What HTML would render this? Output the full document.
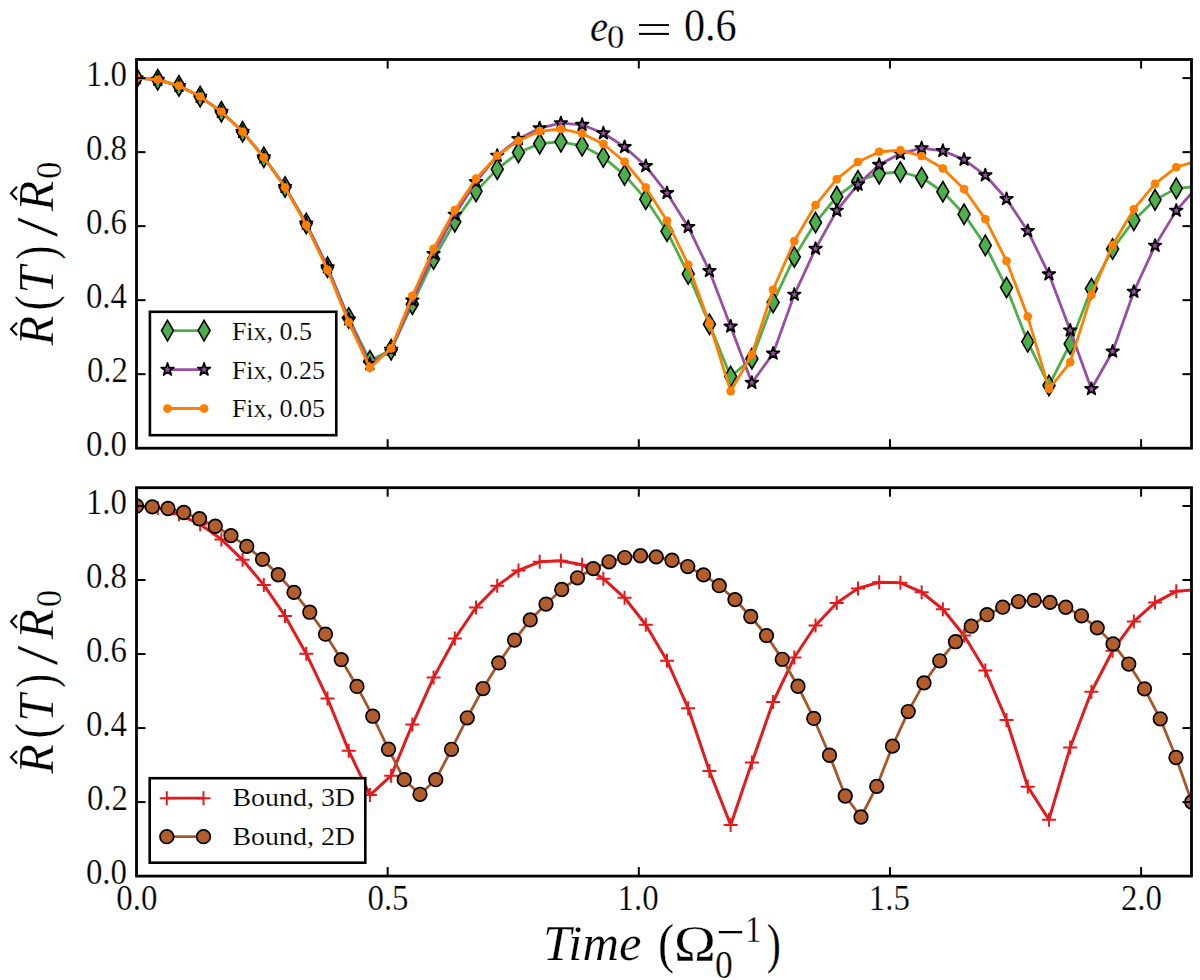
<!DOCTYPE html>
<html><head><meta charset="utf-8"><style>
html,body{margin:0;padding:0;background:#fff;}
svg{display:block;}
text{font-family:"Liberation Serif",serif;fill:#000;stroke:#fff;stroke-width:0.25px;}
.tk{font-size:34px;}
.lg{font-size:25.5px;}
.al{font-size:49px;}
</style></head><body>
<svg width="1200" height="980" viewBox="0 0 1200 980">

<defs>
 <clipPath id="ct"><rect x="136.5" y="59.5" width="1055.0" height="388.7"/></clipPath>
 <clipPath id="cb"><rect x="136.5" y="487.7" width="1055.0" height="388.40000000000003"/></clipPath>
 <path id="dm" d="M0,-10.2 L6,0 L0,10.2 L-6,0 Z" fill="#4daf4a" stroke="#000" stroke-width="1.6" stroke-linejoin="miter"/>
 <path id="st" d="M0.00,-6.60 L1.48,-2.04 L6.28,-2.04 L2.40,0.78 L3.88,5.34 L0.00,2.52 L-3.88,5.34 L-2.40,0.78 L-6.28,-2.04 L-1.48,-2.04 Z" fill="#984ea3" stroke="#000" stroke-width="1.8" stroke-linejoin="round"/>
 <circle id="od" r="4.0" fill="#ff7f00" stroke="#ff7f00" stroke-width="0.8"/>
 <circle id="bc" r="6.8" fill="#b35d2d" stroke="#000" stroke-width="1.7"/>
 <path id="pl" d="M-7,0 H7 M0,-7 V7" stroke="#e41a1c" stroke-width="2" fill="none"/>
</defs>
<rect width="1200" height="980" fill="#fff"/>
<g clip-path="url(#ct)"><polyline points="136.50,78.10 157.72,79.69 178.94,85.87 200.16,96.60 221.38,111.78 242.60,131.76 263.82,157.30 285.04,186.91 306.26,223.55 327.48,267.22 348.70,317.92 369.92,360.86 391.14,349.75 412.36,304.23 433.58,259.08 454.80,221.70 476.02,191.35 497.24,169.14 518.46,152.49 539.68,143.68 560.90,141.76 582.12,145.83 603.34,157.08 624.56,175.07 645.78,199.20 667.00,231.32 688.22,273.88 709.44,324.29 730.66,376.51 751.88,358.64 773.10,302.38 794.32,257.01 815.54,222.51 836.76,196.68 857.98,180.80 879.20,173.70 900.42,171.99 921.64,177.51 942.86,191.72 964.08,214.30 985.30,245.39 1006.52,287.58 1027.74,341.80 1048.96,385.51 1070.18,343.91 1091.40,288.69 1112.62,249.09 1133.84,220.22 1155.06,199.86 1176.28,188.39 1197.50,186.54" fill="none" stroke="#4daf4a" stroke-width="2.8" stroke-linejoin="round"/><use href="#dm" x="136.50" y="78.10"/><use href="#dm" x="157.72" y="79.69"/><use href="#dm" x="178.94" y="85.87"/><use href="#dm" x="200.16" y="96.60"/><use href="#dm" x="221.38" y="111.78"/><use href="#dm" x="242.60" y="131.76"/><use href="#dm" x="263.82" y="157.30"/><use href="#dm" x="285.04" y="186.91"/><use href="#dm" x="306.26" y="223.55"/><use href="#dm" x="327.48" y="267.22"/><use href="#dm" x="348.70" y="317.92"/><use href="#dm" x="369.92" y="360.86"/><use href="#dm" x="391.14" y="349.75"/><use href="#dm" x="412.36" y="304.23"/><use href="#dm" x="433.58" y="259.08"/><use href="#dm" x="454.80" y="221.70"/><use href="#dm" x="476.02" y="191.35"/><use href="#dm" x="497.24" y="169.14"/><use href="#dm" x="518.46" y="152.49"/><use href="#dm" x="539.68" y="143.68"/><use href="#dm" x="560.90" y="141.76"/><use href="#dm" x="582.12" y="145.83"/><use href="#dm" x="603.34" y="157.08"/><use href="#dm" x="624.56" y="175.07"/><use href="#dm" x="645.78" y="199.20"/><use href="#dm" x="667.00" y="231.32"/><use href="#dm" x="688.22" y="273.88"/><use href="#dm" x="709.44" y="324.29"/><use href="#dm" x="730.66" y="376.51"/><use href="#dm" x="751.88" y="358.64"/><use href="#dm" x="773.10" y="302.38"/><use href="#dm" x="794.32" y="257.01"/><use href="#dm" x="815.54" y="222.51"/><use href="#dm" x="836.76" y="196.68"/><use href="#dm" x="857.98" y="180.80"/><use href="#dm" x="879.20" y="173.70"/><use href="#dm" x="900.42" y="171.99"/><use href="#dm" x="921.64" y="177.51"/><use href="#dm" x="942.86" y="191.72"/><use href="#dm" x="964.08" y="214.30"/><use href="#dm" x="985.30" y="245.39"/><use href="#dm" x="1006.52" y="287.58"/><use href="#dm" x="1027.74" y="341.80"/><use href="#dm" x="1048.96" y="385.51"/><use href="#dm" x="1070.18" y="343.91"/><use href="#dm" x="1091.40" y="288.69"/><use href="#dm" x="1112.62" y="249.09"/><use href="#dm" x="1133.84" y="220.22"/><use href="#dm" x="1155.06" y="199.86"/><use href="#dm" x="1176.28" y="188.39"/><use href="#dm" x="1197.50" y="186.54"/><polyline points="136.50,78.10 157.72,79.69 178.94,85.87 200.16,96.60 221.38,111.78 242.60,131.76 263.82,157.30 285.04,186.91 306.26,223.55 327.48,267.22 348.70,319.26 369.92,364.04 391.14,349.61 412.36,300.38 433.58,253.90 454.80,214.63 476.02,181.95 497.24,155.67 518.46,138.98 539.68,128.17 560.90,123.18 582.12,124.81 603.34,133.24 624.56,146.94 645.78,166.04 667.00,193.05 688.22,226.92 709.44,270.96 730.66,326.47 751.88,382.80 773.10,353.49 794.32,294.61 815.54,248.72 836.76,210.60 857.98,184.43 879.20,164.81 900.42,153.60 921.64,148.12 942.86,150.82 964.08,159.60 985.30,175.29 1006.52,198.97 1027.74,230.91 1048.96,274.29 1070.18,330.36 1091.40,388.98 1112.62,351.46 1133.84,291.68 1155.06,245.68 1176.28,210.60 1197.50,186.39" fill="none" stroke="#984ea3" stroke-width="2.8" stroke-linejoin="round"/><use href="#st" x="136.50" y="78.10"/><use href="#st" x="157.72" y="79.69"/><use href="#st" x="178.94" y="85.87"/><use href="#st" x="200.16" y="96.60"/><use href="#st" x="221.38" y="111.78"/><use href="#st" x="242.60" y="131.76"/><use href="#st" x="263.82" y="157.30"/><use href="#st" x="285.04" y="186.91"/><use href="#st" x="306.26" y="223.55"/><use href="#st" x="327.48" y="267.22"/><use href="#st" x="348.70" y="319.26"/><use href="#st" x="369.92" y="364.04"/><use href="#st" x="391.14" y="349.61"/><use href="#st" x="412.36" y="300.38"/><use href="#st" x="433.58" y="253.90"/><use href="#st" x="454.80" y="214.63"/><use href="#st" x="476.02" y="181.95"/><use href="#st" x="497.24" y="155.67"/><use href="#st" x="518.46" y="138.98"/><use href="#st" x="539.68" y="128.17"/><use href="#st" x="560.90" y="123.18"/><use href="#st" x="582.12" y="124.81"/><use href="#st" x="603.34" y="133.24"/><use href="#st" x="624.56" y="146.94"/><use href="#st" x="645.78" y="166.04"/><use href="#st" x="667.00" y="193.05"/><use href="#st" x="688.22" y="226.92"/><use href="#st" x="709.44" y="270.96"/><use href="#st" x="730.66" y="326.47"/><use href="#st" x="751.88" y="382.80"/><use href="#st" x="773.10" y="353.49"/><use href="#st" x="794.32" y="294.61"/><use href="#st" x="815.54" y="248.72"/><use href="#st" x="836.76" y="210.60"/><use href="#st" x="857.98" y="184.43"/><use href="#st" x="879.20" y="164.81"/><use href="#st" x="900.42" y="153.60"/><use href="#st" x="921.64" y="148.12"/><use href="#st" x="942.86" y="150.82"/><use href="#st" x="964.08" y="159.60"/><use href="#st" x="985.30" y="175.29"/><use href="#st" x="1006.52" y="198.97"/><use href="#st" x="1027.74" y="230.91"/><use href="#st" x="1048.96" y="274.29"/><use href="#st" x="1070.18" y="330.36"/><use href="#st" x="1091.40" y="388.98"/><use href="#st" x="1112.62" y="351.46"/><use href="#st" x="1133.84" y="291.68"/><use href="#st" x="1155.06" y="245.68"/><use href="#st" x="1176.28" y="210.60"/><use href="#st" x="1197.50" y="186.39"/><polyline points="136.50,78.10 157.72,79.69 178.94,85.87 200.16,96.60 221.38,111.78 242.60,131.76 263.82,157.49 285.04,187.50 306.26,225.03 327.48,270.00 348.70,322.37 369.92,367.81 391.14,348.38 412.36,295.79 433.58,248.72 454.80,210.00 476.02,178.69 497.24,155.82 518.46,140.68 539.68,131.28 560.90,128.99 582.12,133.50 603.34,143.98 624.56,161.74 645.78,187.50 667.00,220.81 688.22,264.70 709.44,323.48 730.66,391.20 751.88,354.56 773.10,289.80 794.32,241.06 815.54,205.04 836.76,179.14 857.98,162.00 879.20,151.75 900.42,150.27 921.64,156.04 942.86,168.40 964.08,189.13 985.30,219.11 1006.52,260.93 1027.74,316.59 1048.96,388.80 1070.18,362.30 1091.40,294.98 1112.62,245.02 1133.84,209.19 1155.06,183.80 1176.28,167.18 1197.50,160.89" fill="none" stroke="#ff7f00" stroke-width="2.8" stroke-linejoin="round"/><use href="#od" x="136.50" y="78.10"/><use href="#od" x="157.72" y="79.69"/><use href="#od" x="178.94" y="85.87"/><use href="#od" x="200.16" y="96.60"/><use href="#od" x="221.38" y="111.78"/><use href="#od" x="242.60" y="131.76"/><use href="#od" x="263.82" y="157.49"/><use href="#od" x="285.04" y="187.50"/><use href="#od" x="306.26" y="225.03"/><use href="#od" x="327.48" y="270.00"/><use href="#od" x="348.70" y="322.37"/><use href="#od" x="369.92" y="367.81"/><use href="#od" x="391.14" y="348.38"/><use href="#od" x="412.36" y="295.79"/><use href="#od" x="433.58" y="248.72"/><use href="#od" x="454.80" y="210.00"/><use href="#od" x="476.02" y="178.69"/><use href="#od" x="497.24" y="155.82"/><use href="#od" x="518.46" y="140.68"/><use href="#od" x="539.68" y="131.28"/><use href="#od" x="560.90" y="128.99"/><use href="#od" x="582.12" y="133.50"/><use href="#od" x="603.34" y="143.98"/><use href="#od" x="624.56" y="161.74"/><use href="#od" x="645.78" y="187.50"/><use href="#od" x="667.00" y="220.81"/><use href="#od" x="688.22" y="264.70"/><use href="#od" x="709.44" y="323.48"/><use href="#od" x="730.66" y="391.20"/><use href="#od" x="751.88" y="354.56"/><use href="#od" x="773.10" y="289.80"/><use href="#od" x="794.32" y="241.06"/><use href="#od" x="815.54" y="205.04"/><use href="#od" x="836.76" y="179.14"/><use href="#od" x="857.98" y="162.00"/><use href="#od" x="879.20" y="151.75"/><use href="#od" x="900.42" y="150.27"/><use href="#od" x="921.64" y="156.04"/><use href="#od" x="942.86" y="168.40"/><use href="#od" x="964.08" y="189.13"/><use href="#od" x="985.30" y="219.11"/><use href="#od" x="1006.52" y="260.93"/><use href="#od" x="1027.74" y="316.59"/><use href="#od" x="1048.96" y="388.80"/><use href="#od" x="1070.18" y="362.30"/><use href="#od" x="1091.40" y="294.98"/><use href="#od" x="1112.62" y="245.02"/><use href="#od" x="1133.84" y="209.19"/><use href="#od" x="1155.06" y="183.80"/><use href="#od" x="1176.28" y="167.18"/><use href="#od" x="1197.50" y="160.89"/></g>
<g stroke="#000" stroke-width="2"><line x1="387.65" y1="448.2" x2="387.65" y2="439.2" /><line x1="387.65" y1="59.5" x2="387.65" y2="68.5" /><line x1="638.80" y1="448.2" x2="638.80" y2="439.2" /><line x1="638.80" y1="59.5" x2="638.80" y2="68.5" /><line x1="889.95" y1="448.2" x2="889.95" y2="439.2" /><line x1="889.95" y1="59.5" x2="889.95" y2="68.5" /><line x1="1141.10" y1="448.2" x2="1141.10" y2="439.2" /><line x1="1141.10" y1="59.5" x2="1141.10" y2="68.5" /><line x1="136.5" y1="374.18" x2="145.5" y2="374.18" /><line x1="1191.5" y1="374.18" x2="1182.5" y2="374.18" /><line x1="136.5" y1="300.16" x2="145.5" y2="300.16" /><line x1="1191.5" y1="300.16" x2="1182.5" y2="300.16" /><line x1="136.5" y1="226.14" x2="145.5" y2="226.14" /><line x1="1191.5" y1="226.14" x2="1182.5" y2="226.14" /><line x1="136.5" y1="152.12" x2="145.5" y2="152.12" /><line x1="1191.5" y1="152.12" x2="1182.5" y2="152.12" /><line x1="136.5" y1="78.10" x2="145.5" y2="78.10" /><line x1="1191.5" y1="78.10" x2="1182.5" y2="78.10" /></g><rect x="136.5" y="59.5" width="1055.0" height="388.7" fill="none" stroke="#000" stroke-width="2.8"/>
<g clip-path="url(#cb)"><polyline points="136.50,506.00 157.72,508.04 178.94,514.29 200.16,524.32 221.38,539.38 242.60,559.81 263.82,584.91 285.04,615.92 306.26,653.67 327.48,698.45 348.70,750.64 369.92,795.05 391.14,775.69 412.36,724.54 433.58,677.43 454.80,638.61 476.02,607.52 497.24,585.68 518.46,570.40 539.68,561.81 560.90,560.70 582.12,564.73 603.34,578.69 624.56,597.78 645.78,624.80 667.00,660.70 688.22,708.30 709.44,770.99 730.66,825.03 751.88,762.41 773.10,702.00 794.32,657.52 815.54,625.54 836.76,602.97 857.98,588.38 879.20,582.31 900.42,582.76 921.64,592.23 942.86,609.26 964.08,635.53 985.30,670.51 1006.52,719.99 1027.74,786.68 1048.96,819.70 1070.18,747.49 1091.40,691.79 1112.62,650.71 1133.84,621.47 1155.06,602.60 1176.28,591.31 1197.50,589.64" fill="none" stroke="#e41a1c" stroke-width="3.0" stroke-linejoin="round"/><use href="#pl" x="136.50" y="506.00"/><use href="#pl" x="157.72" y="508.04"/><use href="#pl" x="178.94" y="514.29"/><use href="#pl" x="200.16" y="524.32"/><use href="#pl" x="221.38" y="539.38"/><use href="#pl" x="242.60" y="559.81"/><use href="#pl" x="263.82" y="584.91"/><use href="#pl" x="285.04" y="615.92"/><use href="#pl" x="306.26" y="653.67"/><use href="#pl" x="327.48" y="698.45"/><use href="#pl" x="348.70" y="750.64"/><use href="#pl" x="369.92" y="795.05"/><use href="#pl" x="391.14" y="775.69"/><use href="#pl" x="412.36" y="724.54"/><use href="#pl" x="433.58" y="677.43"/><use href="#pl" x="454.80" y="638.61"/><use href="#pl" x="476.02" y="607.52"/><use href="#pl" x="497.24" y="585.68"/><use href="#pl" x="518.46" y="570.40"/><use href="#pl" x="539.68" y="561.81"/><use href="#pl" x="560.90" y="560.70"/><use href="#pl" x="582.12" y="564.73"/><use href="#pl" x="603.34" y="578.69"/><use href="#pl" x="624.56" y="597.78"/><use href="#pl" x="645.78" y="624.80"/><use href="#pl" x="667.00" y="660.70"/><use href="#pl" x="688.22" y="708.30"/><use href="#pl" x="709.44" y="770.99"/><use href="#pl" x="730.66" y="825.03"/><use href="#pl" x="751.88" y="762.41"/><use href="#pl" x="773.10" y="702.00"/><use href="#pl" x="794.32" y="657.52"/><use href="#pl" x="815.54" y="625.54"/><use href="#pl" x="836.76" y="602.97"/><use href="#pl" x="857.98" y="588.38"/><use href="#pl" x="879.20" y="582.31"/><use href="#pl" x="900.42" y="582.76"/><use href="#pl" x="921.64" y="592.23"/><use href="#pl" x="942.86" y="609.26"/><use href="#pl" x="964.08" y="635.53"/><use href="#pl" x="985.30" y="670.51"/><use href="#pl" x="1006.52" y="719.99"/><use href="#pl" x="1027.74" y="786.68"/><use href="#pl" x="1048.96" y="819.70"/><use href="#pl" x="1070.18" y="747.49"/><use href="#pl" x="1091.40" y="691.79"/><use href="#pl" x="1112.62" y="650.71"/><use href="#pl" x="1133.84" y="621.47"/><use href="#pl" x="1155.06" y="602.60"/><use href="#pl" x="1176.28" y="591.31"/><use href="#pl" x="1197.50" y="589.64"/><polyline points="136.50,506.00 152.25,506.89 168.00,508.52 183.75,512.51 199.50,518.77 215.25,526.24 231.00,535.61 246.75,546.41 262.50,559.37 278.25,574.76 294.00,592.38 309.75,612.22 325.50,634.17 341.25,659.59 357.00,686.42 372.75,716.22 388.50,749.23 404.25,779.69 420.00,794.31 435.75,779.69 451.50,749.30 467.25,717.81 483.00,688.53 498.75,662.92 514.50,640.09 530.25,619.92 546.00,604.08 561.75,589.49 577.50,577.80 593.25,568.58 609.00,561.81 624.75,557.55 640.50,555.74 656.25,556.89 672.00,560.26 687.75,566.55 703.50,574.91 719.25,585.68 735.00,599.64 750.75,616.51 766.50,635.61 782.25,659.30 798.00,686.24 813.75,718.44 829.50,755.23 845.25,796.01 861.00,817.00 876.75,786.39 892.50,746.16 908.25,711.55 924.00,682.91 939.75,660.81 955.50,641.72 971.25,626.21 987.00,614.70 1002.75,607.19 1018.50,601.56 1034.25,600.38 1050.00,602.41 1065.75,607.26 1081.50,615.81 1097.25,627.87 1113.00,643.86 1128.75,664.03 1144.50,688.83 1160.25,718.81 1176.00,757.48 1191.75,802.01 1207.50,850.19" fill="none" stroke="#a65628" stroke-width="2.8" stroke-linejoin="round"/><use href="#bc" x="136.50" y="506.00"/><use href="#bc" x="152.25" y="506.89"/><use href="#bc" x="168.00" y="508.52"/><use href="#bc" x="183.75" y="512.51"/><use href="#bc" x="199.50" y="518.77"/><use href="#bc" x="215.25" y="526.24"/><use href="#bc" x="231.00" y="535.61"/><use href="#bc" x="246.75" y="546.41"/><use href="#bc" x="262.50" y="559.37"/><use href="#bc" x="278.25" y="574.76"/><use href="#bc" x="294.00" y="592.38"/><use href="#bc" x="309.75" y="612.22"/><use href="#bc" x="325.50" y="634.17"/><use href="#bc" x="341.25" y="659.59"/><use href="#bc" x="357.00" y="686.42"/><use href="#bc" x="372.75" y="716.22"/><use href="#bc" x="388.50" y="749.23"/><use href="#bc" x="404.25" y="779.69"/><use href="#bc" x="420.00" y="794.31"/><use href="#bc" x="435.75" y="779.69"/><use href="#bc" x="451.50" y="749.30"/><use href="#bc" x="467.25" y="717.81"/><use href="#bc" x="483.00" y="688.53"/><use href="#bc" x="498.75" y="662.92"/><use href="#bc" x="514.50" y="640.09"/><use href="#bc" x="530.25" y="619.92"/><use href="#bc" x="546.00" y="604.08"/><use href="#bc" x="561.75" y="589.49"/><use href="#bc" x="577.50" y="577.80"/><use href="#bc" x="593.25" y="568.58"/><use href="#bc" x="609.00" y="561.81"/><use href="#bc" x="624.75" y="557.55"/><use href="#bc" x="640.50" y="555.74"/><use href="#bc" x="656.25" y="556.89"/><use href="#bc" x="672.00" y="560.26"/><use href="#bc" x="687.75" y="566.55"/><use href="#bc" x="703.50" y="574.91"/><use href="#bc" x="719.25" y="585.68"/><use href="#bc" x="735.00" y="599.64"/><use href="#bc" x="750.75" y="616.51"/><use href="#bc" x="766.50" y="635.61"/><use href="#bc" x="782.25" y="659.30"/><use href="#bc" x="798.00" y="686.24"/><use href="#bc" x="813.75" y="718.44"/><use href="#bc" x="829.50" y="755.23"/><use href="#bc" x="845.25" y="796.01"/><use href="#bc" x="861.00" y="817.00"/><use href="#bc" x="876.75" y="786.39"/><use href="#bc" x="892.50" y="746.16"/><use href="#bc" x="908.25" y="711.55"/><use href="#bc" x="924.00" y="682.91"/><use href="#bc" x="939.75" y="660.81"/><use href="#bc" x="955.50" y="641.72"/><use href="#bc" x="971.25" y="626.21"/><use href="#bc" x="987.00" y="614.70"/><use href="#bc" x="1002.75" y="607.19"/><use href="#bc" x="1018.50" y="601.56"/><use href="#bc" x="1034.25" y="600.38"/><use href="#bc" x="1050.00" y="602.41"/><use href="#bc" x="1065.75" y="607.26"/><use href="#bc" x="1081.50" y="615.81"/><use href="#bc" x="1097.25" y="627.87"/><use href="#bc" x="1113.00" y="643.86"/><use href="#bc" x="1128.75" y="664.03"/><use href="#bc" x="1144.50" y="688.83"/><use href="#bc" x="1160.25" y="718.81"/><use href="#bc" x="1176.00" y="757.48"/><use href="#bc" x="1191.75" y="802.01"/><use href="#bc" x="1207.50" y="850.19"/></g>
<g stroke="#000" stroke-width="2"><line x1="387.65" y1="876.1" x2="387.65" y2="867.1" /><line x1="387.65" y1="487.7" x2="387.65" y2="496.7" /><line x1="638.80" y1="876.1" x2="638.80" y2="867.1" /><line x1="638.80" y1="487.7" x2="638.80" y2="496.7" /><line x1="889.95" y1="876.1" x2="889.95" y2="867.1" /><line x1="889.95" y1="487.7" x2="889.95" y2="496.7" /><line x1="1141.10" y1="876.1" x2="1141.10" y2="867.1" /><line x1="1141.10" y1="487.7" x2="1141.10" y2="496.7" /><line x1="136.5" y1="802.08" x2="145.5" y2="802.08" /><line x1="1191.5" y1="802.08" x2="1182.5" y2="802.08" /><line x1="136.5" y1="728.06" x2="145.5" y2="728.06" /><line x1="1191.5" y1="728.06" x2="1182.5" y2="728.06" /><line x1="136.5" y1="654.04" x2="145.5" y2="654.04" /><line x1="1191.5" y1="654.04" x2="1182.5" y2="654.04" /><line x1="136.5" y1="580.02" x2="145.5" y2="580.02" /><line x1="1191.5" y1="580.02" x2="1182.5" y2="580.02" /><line x1="136.5" y1="506.00" x2="145.5" y2="506.00" /><line x1="1191.5" y1="506.00" x2="1182.5" y2="506.00" /></g><rect x="136.5" y="487.7" width="1055.0" height="388.40000000000003" fill="none" stroke="#000" stroke-width="2.8"/>
<rect x="149.9" y="311.8" width="186.4" height="123.4" fill="#fff" stroke="#000" stroke-width="2.6"/><line x1="167.5" y1="330.6" x2="204.1" y2="330.6" stroke="#4daf4a" stroke-width="2.8"/><use href="#dm" x="167.5" y="330.6"/><use href="#dm" x="204.1" y="330.6"/><text x="231.9" y="339.8" font-size="26" style="stroke-width:0.15px">Fix, 0.5</text><line x1="167.5" y1="369.6" x2="204.1" y2="369.6" stroke="#984ea3" stroke-width="2.8"/><use href="#st" x="167.5" y="369.6"/><use href="#st" x="204.1" y="369.6"/><text x="231.9" y="378.65" font-size="26" style="stroke-width:0.15px">Fix, 0.25</text><line x1="167.5" y1="408.5" x2="204.1" y2="408.5" stroke="#ff7f00" stroke-width="2.8"/><use href="#od" x="167.5" y="408.5"/><use href="#od" x="204.1" y="408.5"/><text x="231.9" y="417.25" font-size="26" style="stroke-width:0.15px">Fix, 0.05</text>
<rect x="149.7" y="778.2" width="215.6" height="84.5" fill="#fff" stroke="#000" stroke-width="2.6"/><line x1="166.8" y1="798.2" x2="203.5" y2="798.2" stroke="#e41a1c" stroke-width="2.8"/><use href="#pl" x="166.8" y="798.2"/><use href="#pl" x="203.5" y="798.2"/><text transform="translate(232.4,805.8) scale(1.075,1)" font-size="26" style="stroke-width:0.15px">Bound, 3D</text><line x1="166.8" y1="836.7" x2="203.5" y2="836.7" stroke="#a65628" stroke-width="2.8"/><use href="#bc" x="166.8" y="836.7"/><use href="#bc" x="203.5" y="836.7"/><text transform="translate(232.4,845.05) scale(1.075,1)" font-size="26" style="stroke-width:0.15px">Bound, 2D</text>
<text transform="translate(85.90,456.30) scale(0.94,1)" font-size="35">0.0</text><text transform="translate(86.90,382.28) scale(0.94,1)" font-size="35">0.2</text><text transform="translate(85.90,308.26) scale(0.94,1)" font-size="35">0.4</text><text transform="translate(85.90,234.24) scale(0.94,1)" font-size="35">0.6</text><text transform="translate(85.90,160.22) scale(0.94,1)" font-size="35">0.8</text><text transform="translate(85.90,86.20) scale(0.94,1)" font-size="35">1.0</text>
<text transform="translate(85.90,884.20) scale(0.94,1)" font-size="35">0.0</text><text transform="translate(86.90,810.18) scale(0.94,1)" font-size="35">0.2</text><text transform="translate(85.90,736.16) scale(0.94,1)" font-size="35">0.4</text><text transform="translate(85.90,662.14) scale(0.94,1)" font-size="35">0.6</text><text transform="translate(85.90,588.12) scale(0.94,1)" font-size="35">0.8</text><text transform="translate(85.90,514.10) scale(0.94,1)" font-size="35">1.0</text>
<text transform="translate(116.30,910.10) scale(0.94,1)" font-size="35">0.0</text><text transform="translate(367.45,910.10) scale(0.94,1)" font-size="35">0.5</text><text transform="translate(617.60,910.10) scale(0.94,1)" font-size="35">1.0</text><text transform="translate(868.75,910.10) scale(0.94,1)" font-size="35">1.5</text><text transform="translate(1120.90,910.10) scale(0.94,1)" font-size="35">2.0</text>
<text transform="translate(590,40.75) scale(0.9093,1)" font-size="44.82" font-style="italic">e</text><text transform="translate(606.9,47.95) scale(1.0102,1)" font-size="34.27">0</text><rect x="639" y="24.1" width="30" height="1.9"/><rect x="639" y="32.9" width="30" height="2"/><text transform="translate(683.9,41.35) scale(0.9088,1)" font-size="46.4">0.6</text>
<g transform="translate(0,0)"><g transform="rotate(-90)"><text transform="translate(-345.5,52.95) scale(0.9749,1)" font-size="49.77" font-style="italic">R</text><text transform="translate(-310.4,53.1) scale(0.8205,1)" font-size="55.45">(</text><text transform="translate(-293.5,52.85) scale(0.9652,1)" font-size="50.7" font-style="italic">T</text><text transform="translate(-259.5,53.6) scale(0.7322,1)" font-size="55.45">)</text><text transform="translate(-237,57.05) scale(1.1711,1)" font-size="60.08">/</text><text transform="translate(-211.1,53.05) scale(0.9806,1)" font-size="50.48" font-style="italic">R</text><text transform="translate(-178.8,60.5) scale(0.9552,1)" font-size="35.8">0</text></g><polyline points="17.0,322.8 11.0,329.0 17.0,335.2" fill="none" stroke="#000" stroke-width="2.1"/><polyline points="17.0,186.8 11.0,193.3 17.0,199.8" fill="none" stroke="#000" stroke-width="2.1"/></g>
<g transform="translate(0,428.2)"><g transform="rotate(-90)"><text transform="translate(-345.5,52.95) scale(0.9749,1)" font-size="49.77" font-style="italic">R</text><text transform="translate(-310.4,53.1) scale(0.8205,1)" font-size="55.45">(</text><text transform="translate(-293.5,52.85) scale(0.9652,1)" font-size="50.7" font-style="italic">T</text><text transform="translate(-259.5,53.6) scale(0.7322,1)" font-size="55.45">)</text><text transform="translate(-237,57.05) scale(1.1711,1)" font-size="60.08">/</text><text transform="translate(-211.1,53.05) scale(0.9806,1)" font-size="50.48" font-style="italic">R</text><text transform="translate(-178.8,60.5) scale(0.9552,1)" font-size="35.8">0</text></g><polyline points="17.0,322.8 11.0,329.0 17.0,335.2" fill="none" stroke="#000" stroke-width="2.1"/><polyline points="17.0,186.8 11.0,193.3 17.0,199.8" fill="none" stroke="#000" stroke-width="2.1"/></g>
<text transform="translate(543,960.25) scale(0.9825,1)" font-size="51.53" font-style="italic">Time</text><text transform="translate(657.9,962.0) scale(0.8725,1)" font-size="55.54">(</text><text transform="translate(674.1,960.1) scale(1.1024,1)" font-size="51.09">&#937;</text><text transform="translate(714.9,977.85) scale(0.8968,1)" font-size="39.65">0</text><rect x="718.8" y="931" width="23.4" height="2.3"/><text transform="translate(745,942.15) scale(0.8808,1)" font-size="37.5">1</text><text transform="translate(766.8,962.0) scale(0.7803,1)" font-size="54.32">)</text>
</svg>
</body></html>
